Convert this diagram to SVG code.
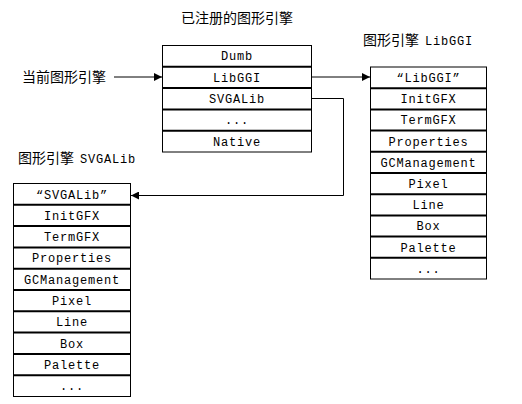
<svg xmlns="http://www.w3.org/2000/svg" width="522" height="404" viewBox="0 0 522 404">
<style>
.box{fill:#fff;stroke:#000;stroke-width:1}
.div{stroke:#000;stroke-width:2}
.t{font-family:"Liberation Mono","DejaVu Sans Mono",monospace;font-size:12px;font-weight:400;letter-spacing:0.8px;text-anchor:middle;fill:#000}
.cn{font-family:"Noto Sans CJK SC","Noto Sans",sans-serif;font-size:14px;fill:#000}
.lbl{font-family:"Liberation Mono",monospace;font-size:12px;font-weight:400;letter-spacing:0.8px;fill:#000}
.c{fill:none;stroke:#000;stroke-width:1}
</style>
<defs>
<marker id="ah" viewBox="0 0 10 10" refX="10" refY="5" markerWidth="9" markerHeight="8" markerUnits="userSpaceOnUse" orient="auto">
<path d="M0,0 L10,5 L0,10 z" fill="#000"/>
</marker>
</defs>
<rect width="522" height="404" fill="#fff"/>
<text class="cn" x="237" y="23" text-anchor="middle">已注册的图形引擎</text>
<text class="cn" x="22" y="82">当前图形引擎</text>
<text x="363" y="45"><tspan class="cn">图形引擎</tspan><tspan class="lbl" dx="6">LibGGI</tspan></text>
<text x="18" y="163"><tspan class="cn">图形引擎</tspan><tspan class="lbl" dx="6">SVGALib</tspan></text>

<g id="registered">
<rect class="box" x="162.5" y="45.5" width="149" height="106.5"/>
<line class="div" x1="162" y1="66.8" x2="312" y2="66.8"/>
<line class="div" x1="162" y1="88.1" x2="312" y2="88.1"/>
<line class="div" x1="162" y1="109.4" x2="312" y2="109.4"/>
<line class="div" x1="162" y1="130.7" x2="312" y2="130.7"/>
<text class="t" x="237" y="60">Dumb</text>
<text class="t" x="237" y="81.5">LibGGI</text>
<text class="t" x="237" y="102.8">SVGALib</text>
<text class="t" x="237" y="124">...</text>
<text class="t" x="237" y="145.5">Native</text>
</g>

<g id="libggi">
<rect class="box" x="370.5" y="67" width="116" height="212"/>
<line class="div" x1="370" y1="88.2" x2="487" y2="88.2"/>
<line class="div" x1="370" y1="109.4" x2="487" y2="109.4"/>
<line class="div" x1="370" y1="130.6" x2="487" y2="130.6"/>
<line class="div" x1="370" y1="151.8" x2="487" y2="151.8"/>
<line class="div" x1="370" y1="173" x2="487" y2="173"/>
<line class="div" x1="370" y1="194.2" x2="487" y2="194.2"/>
<line class="div" x1="370" y1="215.4" x2="487" y2="215.4"/>
<line class="div" x1="370" y1="236.6" x2="487" y2="236.6"/>
<line class="div" x1="370" y1="257.8" x2="487" y2="257.8"/>
<text class="t" x="428.5" y="82">“LibGGI”</text>
<text class="t" x="428.5" y="103.2">InitGFX</text>
<text class="t" x="428.5" y="124.4">TermGFX</text>
<text class="t" x="428.5" y="145.6">Properties</text>
<text class="t" x="428.5" y="166.8">GCManagement</text>
<text class="t" x="428.5" y="188">Pixel</text>
<text class="t" x="428.5" y="209.2">Line</text>
<text class="t" x="428.5" y="230.4">Box</text>
<text class="t" x="428.5" y="251.6">Palette</text>
<text class="t" x="428.5" y="272.8">...</text>
</g>

<g id="svgalib">
<rect class="box" x="13.5" y="183.5" width="117" height="213"/>
<line class="div" x1="13" y1="204.8" x2="131" y2="204.8"/>
<line class="div" x1="13" y1="226.1" x2="131" y2="226.1"/>
<line class="div" x1="13" y1="247.4" x2="131" y2="247.4"/>
<line class="div" x1="13" y1="268.7" x2="131" y2="268.7"/>
<line class="div" x1="13" y1="290" x2="131" y2="290"/>
<line class="div" x1="13" y1="311.3" x2="131" y2="311.3"/>
<line class="div" x1="13" y1="332.6" x2="131" y2="332.6"/>
<line class="div" x1="13" y1="353.9" x2="131" y2="353.9"/>
<line class="div" x1="13" y1="375.2" x2="131" y2="375.2"/>
<text class="t" x="72" y="198.5">“SVGALib”</text>
<text class="t" x="72" y="219.8">InitGFX</text>
<text class="t" x="72" y="241.1">TermGFX</text>
<text class="t" x="72" y="262.4">Properties</text>
<text class="t" x="72" y="283.7">GCManagement</text>
<text class="t" x="72" y="305">Pixel</text>
<text class="t" x="72" y="326.3">Line</text>
<text class="t" x="72" y="347.6">Box</text>
<text class="t" x="72" y="368.9">Palette</text>
<text class="t" x="72" y="390.2">...</text>
</g>

<g id="connectors">
<line class="c" x1="114" y1="77" x2="162" y2="77" marker-end="url(#ah)"/>
<line class="c" x1="312" y1="77" x2="370" y2="77" marker-end="url(#ah)"/>
<polyline class="c" points="312,98.5 343.5,98.5 343.5,195.5 131,195.5" marker-end="url(#ah)"/>
</g>
</svg>
